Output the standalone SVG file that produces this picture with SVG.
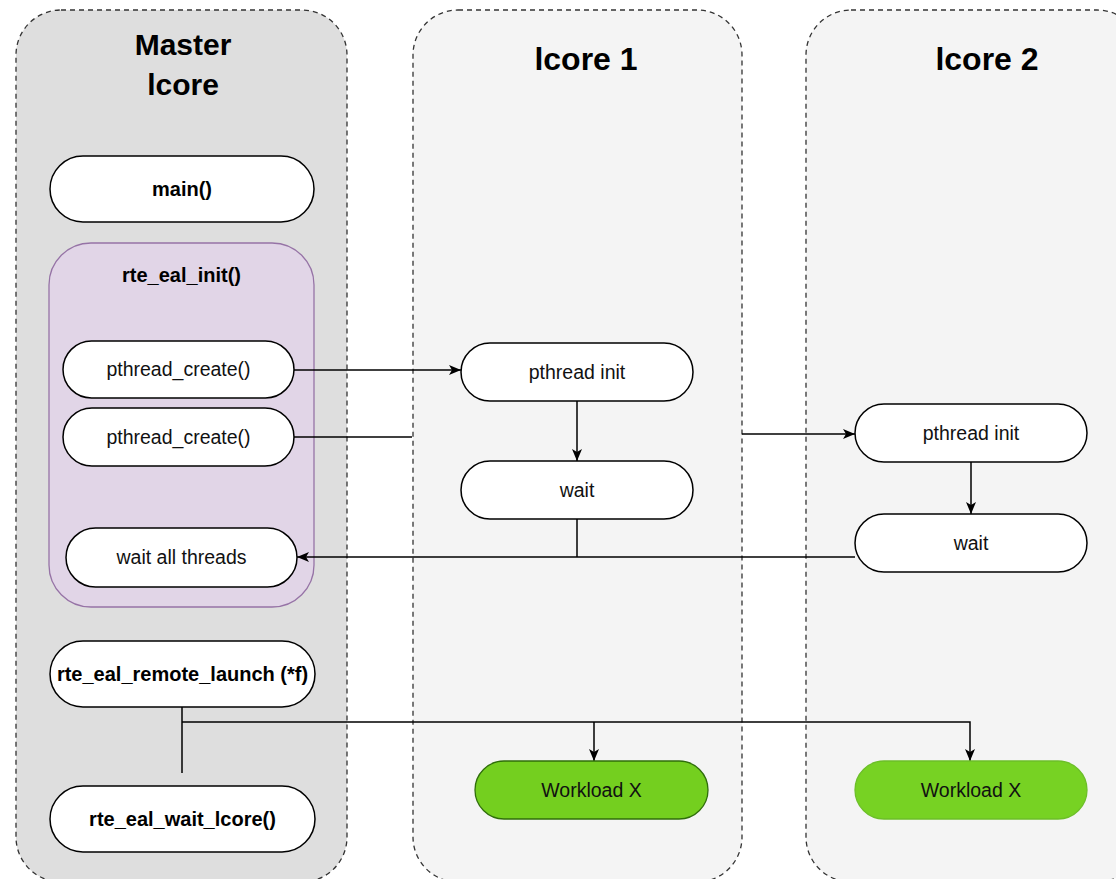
<svg xmlns="http://www.w3.org/2000/svg" width="1116" height="879" viewBox="0 0 1116 879">
<defs>
<marker id="arr" markerWidth="12" markerHeight="10" refX="12" refY="5" orient="auto" markerUnits="userSpaceOnUse">
<path d="M0 0 L12 5 L0 10 L3 5 Z" fill="#000"/>
</marker>
<style>
.lane{stroke:#333;stroke-width:1.3;stroke-dasharray:5 4}
.node{fill:#fff;stroke:#000;stroke-width:1.5}
.t{font-family:"Liberation Sans",Arial,sans-serif;font-size:19.5px;fill:#111;text-anchor:middle}
.b{font-family:"Liberation Sans",Arial,sans-serif;font-size:20px;font-weight:bold;fill:#000;text-anchor:middle}
.h{font-family:"Liberation Sans",Arial,sans-serif;font-size:30px;font-weight:bold;fill:#000;text-anchor:middle}
.h2{font-family:"Liberation Sans",Arial,sans-serif;font-size:32px;font-weight:bold;fill:#000;text-anchor:middle}
.c{fill:none;stroke:#000;stroke-width:1.5}
</style>
</defs>
<rect width="1116" height="879" fill="#fff"/>
<g id="lane-master">
<rect class="lane" x="16" y="10" width="331" height="872" rx="45" fill="#dedede"/>
<text class="h" x="183" y="55">Master</text>
<text class="h" x="183" y="95">lcore</text>
</g>
<g id="lane-lcore1">
<rect class="lane" x="413" y="10" width="329" height="872" rx="45" fill="#f4f4f4"/>
<text class="h2" x="586" y="70">lcore 1</text>
</g>
<g id="lane-lcore2">
<rect class="lane" x="806" y="10" width="336" height="872" rx="45" fill="#f4f4f4"/>
<text class="h2" x="987" y="70">lcore 2</text>
</g>
<g id="rte_eal_init">
<rect x="49" y="243" width="265" height="364" rx="42" fill="#e1d5e7" stroke="#9673a6" stroke-width="1.3"/>
<text class="b" x="181.5" y="282">rte_eal_init()</text>
</g>
<g id="connectors">
<path class="c" d="M294 370 H461" marker-end="url(#arr)"/>
<path class="c" d="M294 437 H412"/>
<path class="c" d="M742 434 H855" marker-end="url(#arr)"/>
<path class="c" d="M577 401 V461" marker-end="url(#arr)"/>
<path class="c" d="M577 519 V557"/>
<path class="c" d="M855 557 H297" marker-end="url(#arr)" stroke="#444"/>
<path class="c" d="M971 462 V514" marker-end="url(#arr)"/>
<path class="c" d="M182 707 V773"/>
<path class="c" d="M182 722 H970 V761" marker-end="url(#arr)"/>
<path class="c" d="M594 722 V761" marker-end="url(#arr)"/>
</g>
<g id="main">
<rect class="node" x="50" y="156" width="264" height="66" rx="33"/>
<text class="b" x="182" y="196">main()</text>
</g>
<g id="pthread_create_1">
<rect class="node" x="63" y="341" width="231" height="57" rx="28.5"/>
<text class="t" x="178.5" y="376">pthread_create()</text>
</g>
<g id="pthread_create_2">
<rect class="node" x="63" y="408" width="231" height="58" rx="29"/>
<text class="t" x="178.5" y="444">pthread_create()</text>
</g>
<g id="wait_all_threads">
<rect class="node" x="66" y="528" width="231" height="59" rx="29.5"/>
<text class="t" x="181.5" y="564">wait all threads</text>
</g>
<g id="pthread_init_1">
<rect class="node" x="461" y="343" width="232" height="58" rx="29"/>
<text class="t" x="577" y="379">pthread init</text>
</g>
<g id="wait_1">
<rect class="node" x="461" y="461" width="232" height="58" rx="29"/>
<text class="t" x="577" y="497">wait</text>
</g>
<g id="pthread_init_2">
<rect class="node" x="855" y="404" width="232" height="58" rx="29"/>
<text class="t" x="971" y="440">pthread init</text>
</g>
<g id="wait_2">
<rect class="node" x="855" y="514" width="232" height="58" rx="29"/>
<text class="t" x="971" y="550">wait</text>
</g>
<g id="rte_eal_remote_launch">
<rect class="node" x="50" y="641" width="265" height="66" rx="33"/>
<text class="b" x="182.5" y="681">rte_eal_remote_launch (*f)</text>
</g>
<g id="rte_eal_wait_lcore">
<rect class="node" x="50" y="786" width="265" height="66" rx="33"/>
<text class="b" x="182.5" y="826">rte_eal_wait_lcore()</text>
</g>
<g id="workload_1">
<rect x="475" y="761" width="233" height="58" rx="29" fill="#74cf1f" stroke="#2f6e0a" stroke-width="1.3"/>
<text class="t" x="591.5" y="797">Workload X</text>
</g>
<g id="workload_2">
<rect x="855" y="761" width="232" height="58" rx="29" fill="#77d223" stroke="#6cbf28" stroke-width="1.3"/>
<text class="t" x="971" y="797">Workload X</text>
</g>
</svg>
